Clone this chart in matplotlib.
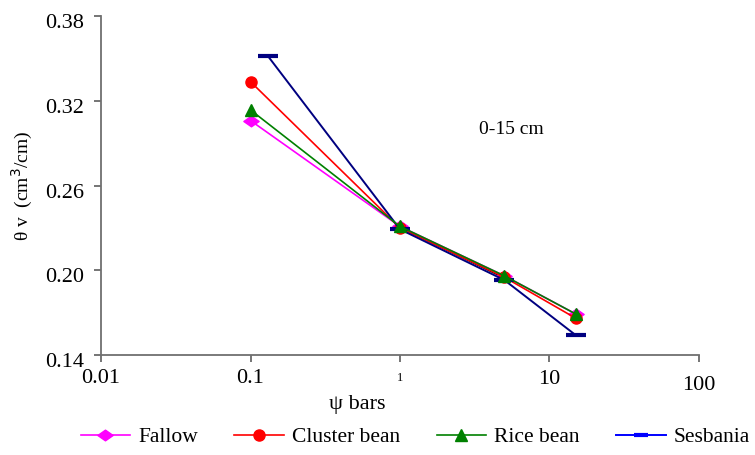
import numpy as np
import matplotlib
matplotlib.use("Agg")
import matplotlib.pyplot as plt
from matplotlib.lines import Line2D
from matplotlib.path import Path
from matplotlib.transforms import ScaledTranslation

plt.rcParams["font.family"] = ["Liberation Serif", "DejaVu Serif"]

# ---------------------------------------------------------------
# Data (soil water retention, 0-15 cm)
# ---------------------------------------------------------------
psi = [0.1, 1, 5, 15]
psi_sesbania = [0.13, 1, 5, 15]
fallow = [0.306, 0.231, 0.196, 0.169]
cluster_bean = [0.3335, 0.230, 0.195, 0.166]
rice_bean = [0.3135, 0.231, 0.196, 0.169]
sesbania = [0.352, 0.229, 0.193, 0.154]
# unlabelled black trace between 1 and 5 bars
psi_black = [1, 5]
black = [0.2305, 0.1945]

x_ticks = [0.01, 0.1, 1, 10, 100]
x_ticklabels = ["0.01", "0.1", "1", "10", "100"]
y_ticks = [0.14, 0.20, 0.26, 0.32, 0.38]

# flat diamond like the Excel marker
flat_diamond = Path([(-1, 0), (0, 0.7), (1, 0), (0, -0.7), (-1, 0)],
                    [Path.MOVETO, Path.LINETO, Path.LINETO, Path.LINETO, Path.CLOSEPOLY])

fig = plt.figure(figsize=(7.55, 4.55), dpi=100)
ax = fig.add_axes([0.1338, 0.2198, 0.792, 0.745])

ax.plot(psi_black, black, color="black", lw=1.2, zorder=2)
ax.plot(psi, fallow, color="#FF00FF", lw=1.2, marker=flat_diamond, ms=11, zorder=3)
ax.plot(psi, cluster_bean, color="#FF0000", lw=1.2, marker="o", ms=8, zorder=3)
ax.plot(psi, rice_bean, color="#008000", lw=1.2, marker="^", ms=9, zorder=4)
ax.plot(psi_sesbania, sesbania, color="#000080", lw=1.4, marker="_", ms=14, mew=3, zorder=3)

ax.set_xscale("log")
ax.set_xlim(0.01, 100)
ax.set_ylim(0.14, 0.38)
ax.set_xticks(x_ticks)
ax.set_xticklabels(x_ticklabels)
ax.xaxis.set_minor_locator(matplotlib.ticker.NullLocator())
ax.set_yticks(y_ticks)
ax.set_yticklabels([f"{v:.2f}" for v in y_ticks])

for side in ["top", "right"]:
    ax.spines[side].set_visible(False)
for side in ["left", "bottom"]:
    ax.spines[side].set_color("#707070")
    ax.spines[side].set_linewidth(1.3)
ax.tick_params(axis="both", direction="out", length=5, width=1.1, color="#505050",
               labelsize=16)
ax.tick_params(axis="x", pad=5)
ax.tick_params(axis="y", pad=7)

# y labels sit a little below their ticks in the reference
for lab in ax.get_yticklabels():
    lab.set_transform(lab.get_transform() + ScaledTranslation(0, -5 / 100, fig.dpi_scale_trans))

# the reference has uneven x tick labels
sizes = [16, 16, 9, 16, 16]
shifts = [0, 0, -3, -1, -7]
for lab, s, dy in zip(ax.get_xticklabels(), sizes, shifts):
    lab.set_fontsize(s)
    lab.set_transform(lab.get_transform() + ScaledTranslation(0, dy / 100, fig.dpi_scale_trans))

ax.set_xlabel("ψ bars", fontsize=16)
ax.xaxis.set_label_coords(0.428, -0.118)
ax.set_ylabel("θ v  (cm$^3$/cm)", fontsize=14)
ax.yaxis.set_label_coords(-0.11, 0.5)

ax.text(0.686, 0.664, "0-15 cm", transform=ax.transAxes, fontsize=14,
        ha="center", va="center")

handles = [
    Line2D([], [], color="#FF00FF", lw=1.2, marker=flat_diamond, ms=11),
    Line2D([], [], color="#FF0000", lw=1.2, marker="o", ms=8),
    Line2D([], [], color="#008000", lw=1.2, marker="^", ms=9),
    Line2D([], [], color="#0000FF", lw=1.4, marker="_", ms=10, mew=3),
]
labels = ["Fallow", "Cluster bean", "Rice bean", "Sesbania"]
fig.legend(handles, labels, loc="center", bbox_to_anchor=(0.55, 1 - 437 / 455), ncol=4,
           frameon=False, fontsize=15.5, handlelength=2.3, handletextpad=0.37,
           columnspacing=1.7)

fig.savefig("out.png", dpi=100)
